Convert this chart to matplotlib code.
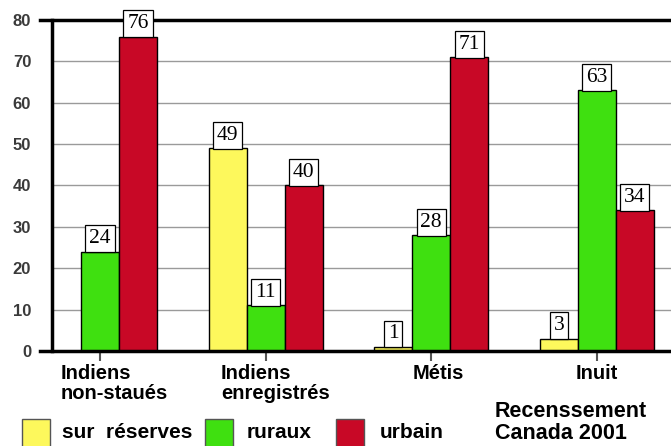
import matplotlib
matplotlib.use("Agg")
import matplotlib.pyplot as plt
import matplotlib.patches as patches
import numpy as np

# Données (Recensement Canada 2001)
groupes = ["Indiens\nnon-staués", "Indiens\nenregistrés", "Métis", "Inuit"]
sur_reserves = [0, 49, 1, 3]
ruraux = [24, 11, 28, 63]
urbain = [76, 40, 71, 34]
series_noms = ["sur  réserves", "ruraux", "urbain"]
couleurs = ["#fdf85c", "#3fe010", "#c80826"]

plt.rcParams["font.family"] = ["Liberation Sans", "DejaVu Sans"]

fig = plt.figure(figsize=(6.71, 4.46), dpi=100)
ax = fig.add_axes([52 / 671, 95 / 446, 619 / 671, 331 / 446])

x = np.arange(len(groupes))
w = 0.229
series = [sur_reserves, ruraux, urbain]
decal = [-w, 0, w]

for vals, c, d in zip(series, couleurs, decal):
    for xi, v in zip(x, vals):
        if v == 0:
            continue
        ax.bar(xi + d, v, width=w, color=c, edgecolor="black", linewidth=1, zorder=3)
        ax.annotate(str(v), (xi + d, v), xytext=(0, 2.5), textcoords="offset points",
                    ha="center", va="bottom", fontsize=15.5, family="Liberation Serif",
                    bbox=dict(boxstyle="square,pad=0.18", fc="white", ec="black", lw=0.9),
                    zorder=7, annotation_clip=False)

ax.set_xlim(-0.29, 3.448)
ax.set_ylim(0, 80)
ax.set_yticks(range(0, 81, 10))
ax.yaxis.grid(True, color="#9a9a9a", lw=1)
ax.set_axisbelow(True)
ax.tick_params(axis="y", length=0, pad=15, labelsize=12, labelcolor="#3a3a3a")
for lab in ax.get_yticklabels():
    lab.set_fontweight("bold")

ax.set_xticks(x)
ax.set_xticklabels([])
ax.tick_params(axis="x", length=7, width=1.5, color="#555555", direction="out")

for s in ["right", "top", "bottom"]:
    ax.spines[s].set_visible(False)
ax.spines["left"].set_linewidth(2.5)

# lignes épaisses à 0 et 80
ax.axhline(0, xmin=-0.02, xmax=1, color="black", lw=2.5, clip_on=False, zorder=5)
ax.axhline(80, xmin=-0.02, xmax=1, color="black", lw=2.5, clip_on=False, zorder=5)

# étiquettes des groupes
decal_lab = [-0.24, -0.27, -0.115, -0.13]
for xi, g, dl in zip(x, groupes, decal_lab):
    ax.text(xi + dl, -3.2, g, ha="left", va="top", fontsize=14.5,
            fontweight="bold", linespacing=1.05)

# légende
leg_x = [22, 205, 336]
txt_x = [62, 247, 380]
for lx, tx, c, nom in zip(leg_x, txt_x, couleurs, series_noms):
    fig.patches.append(patches.Rectangle((lx / 671, -0.02), 28 / 671, (446 - 419) / 446 + 0.02,
                                         transform=fig.transFigure, fc=c, ec="#555555", lw=1))
    fig.text(tx / 671, (446 - 432) / 446, nom, ha="left", va="center",
             fontsize=15, fontweight="bold")

fig.text(495 / 671, 2 / 446, "Recenssement\nCanada 2001", ha="left", va="bottom",
         fontsize=15.5, fontweight="bold", linespacing=1.05)

fig.savefig("out.png", dpi=100)
